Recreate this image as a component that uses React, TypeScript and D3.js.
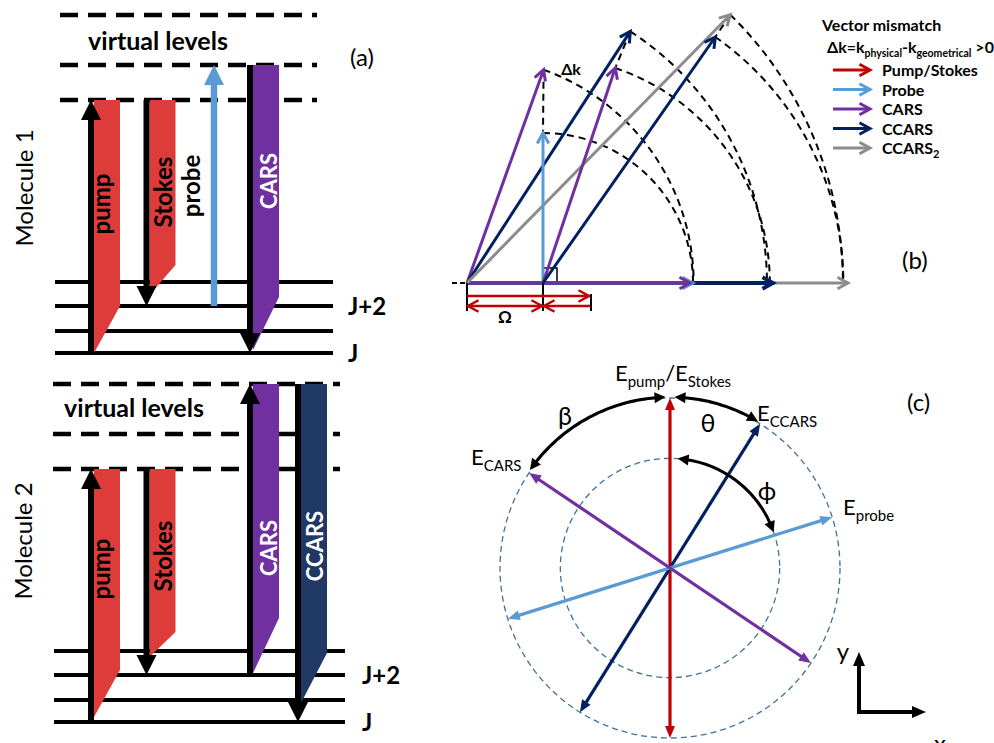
import React from 'react';
import * as d3 from 'd3';

// ---------- panel (a): energy levels, in units above J ----------
const groundLevels = [0, 22, 47, 71];
const groundLabels = [
  { level: 0, text: 'J' },
  { level: 47, text: 'J+2' },
];
const virtualLevels = [253, 288, 338];

// tail = [left, right] end of the coloured ribbon (same energy units)
const molecule1 = [
  { id: 'pump', from: 0, to: 253, tail: [0, 47] },
  { id: 'Stokes', from: 253, to: 47, tail: [58, 88] },
  { id: 'probe', from: 47, to: 288, tail: null },
  { id: 'CARS', from: 288, to: 0, tail: [3, 56] },
];
const molecule2 = [
  { id: 'pump', from: 0, to: 253, tail: [5, 52] },
  { id: 'Stokes', from: 253, to: 47, tail: [65, 90] },
  { id: 'CARS', from: 47, to: 338, tail: [49, 104] },
  { id: 'CCARS', from: 338, to: 0, tail: [19, 69] },
];

// ---------- panel (b): wave vectors ----------
const omega = 76;
const kPump = 124;
const kStokes = 48;
const kOrigins = [0, omega];
const kVectors = [
  { beam: 'CARS', origin: 0, kx: 76.6, ky: 213.3 },
  { beam: 'CCARS', origin: 0, kx: 163.3, ky: 251.6 },
  { beam: 'CCARS2', origin: 0, kx: 263.3, ky: 268.3 },
  { beam: 'Probe', origin: 1, kx: 0, ky: 150 },
  { beam: 'CARS', origin: 1, kx: 72.3, ky: 215 },
  { beam: 'CCARS', origin: 1, kx: 172.3, ky: 246 },
];
const kAxial = [
  { beam: 'CCARS2', k: 381 },
  { beam: 'CCARS', k: 306 },
  { beam: 'Probe', k: 226 },
  { beam: 'CARS', k: 223 },
];
const mismatchPairs = [[0, 3], [1, 4], [2, 5]];
const legendItems = [
  { beam: 'Pump/Stokes', text: 'Pump/Stokes', sub: '' },
  { beam: 'Probe', text: 'Probe', sub: '' },
  { beam: 'CARS', text: 'CARS', sub: '' },
  { beam: 'CCARS', text: 'CCARS', sub: '' },
  { beam: 'CCARS2', text: ' CCARS', sub: '2' },
];

// ---------- panel (c): polarisation angles (deg from y, clockwise) ----------
const fields = [
  { beam: 'Pump/Stokes', angle: 0 },
  { beam: 'CCARS', angle: 32 },
  { beam: 'Probe', angle: 72.6 },
  { beam: 'CARS', angle: -56 },
];
const angleMarks = [
  { sym: 'β', from: -1.5, to: -55, ring: 1 },
  { sym: 'θ', from: 1.5, to: 31, ring: 1 },
  { sym: 'ϕ', from: 4, to: 71, ring: 0.645 },
];

const colors = {
  'Pump/Stokes': '#C00000',
  Probe: '#5B9BD5',
  CARS: '#7030A0',
  CCARS: '#002060',
  CCARS2: '#8C8C8C',
};
const ribbon = { pump: '#DE3B3B', Stokes: '#DE3B3B', CARS: '#7030A0', CCARS: '#1F3864' };
const FONT = "Lato, 'Open Sans', sans-serif";

function head(x1, y1, x2, y2, len, hw) {
  const a = Math.atan2(y2 - y1, x2 - x1);
  const bx = x2 - len * Math.cos(a);
  const by = y2 - len * Math.sin(a);
  return `${x2},${y2} ${bx - hw * Math.sin(a)},${by + hw * Math.cos(a)} ${bx + hw * Math.sin(a)},${by - hw * Math.cos(a)}`;
}

function chevron(x1, y1, x2, y2, len = 12, spread = 0.5) {
  const a = Math.atan2(y2 - y1, x2 - x1);
  const p1 = [x2 - len * Math.cos(a - spread), y2 - len * Math.sin(a - spread)];
  const p2 = [x2 - len * Math.cos(a + spread), y2 - len * Math.sin(a + spread)];
  return `M${p1[0]},${p1[1]}L${x2},${y2}L${p2[0]},${p2[1]}`;
}

function KArrow({ x1, y1, x2, y2, color, width = 3 }) {
  return (
    <g stroke={color} strokeWidth={width} fill="none">
      <line x1={x1} y1={y1} x2={x2} y2={y2} />
      <path d={chevron(x1, y1, x2, y2)} strokeLinejoin="miter" />
    </g>
  );
}

const molLayouts = [
  {
    y0: 353, y1: 15, levelX: [55, 333], dashX: [60, 317], jX: 348,
    title: 'Molecule 1', titlePos: [33, 188], vl: [158, 50],
    cols: { pump: 91, Stokes: 146.5, probe: 214, CARS: 250 },
    labelY: { pump: 204, Stokes: 192, probe: 186, CARS: 181 },
  },
  {
    y0: 722, y1: 384, levelX: [54, 345], dashX: [53, 340], jX: 362,
    title: 'Molecule 2', titlePos: [32, 541], vl: [134, 417],
    cols: { pump: 91, Stokes: 146.5, CARS: 250, CCARS: 298 },
    labelY: { pump: 569, Stokes: 556, CARS: 548, CCARS: 546 },
  },
];
const labelBase = { pump: 19, Stokes: 25.5, CARS: 27, CCARS: 24.5, probe: -14 };

function Molecule({ transitions, lay }) {
  const y = d3.scaleLinear().domain([0, 338]).range([lay.y0, lay.y1]);
  return (
    <g>
      {virtualLevels.map(v => (
        <line key={'v' + v} x1={lay.dashX[0]} x2={lay.dashX[1]} y1={y(v)} y2={y(v)}
          stroke="#000" strokeWidth={4.5} strokeDasharray="18 10" />
      ))}
      {groundLevels.map(g => (
        <line key={'g' + g} x1={lay.levelX[0]} x2={lay.levelX[1]} y1={y(g)} y2={y(g)}
          stroke="#000" strokeWidth={4} />
      ))}
      {groundLabels.map(g => (
        <text key={g.text} x={lay.jX} y={y(g.level) + 9} fontSize={24} fontWeight="bold">{g.text}</text>
      ))}
      <text x={lay.vl[0]} y={lay.vl[1]} fontSize={25} fontWeight="bold" textAnchor="middle">virtual levels</text>
      <text transform={`translate(${lay.titlePos[0]},${lay.titlePos[1]}) rotate(-90)`} fontSize={24} textAnchor="middle">{lay.title}</text>
      {transitions.map(t => {
        const x = lay.cols[t.id];
        if (!t.tail) return null;
        const top = y(Math.max(t.from, t.to));
        const pts = `${x + 3},${top} ${x + 29},${top} ${x + 29},${y(t.tail[1])} ${x + 3},${y(t.tail[0])}`;
        return <polygon key={'r' + t.id} points={pts} fill={ribbon[t.id]} />;
      })}
      {transitions.map(t => {
        const x = lay.cols[t.id];
        const y1 = y(t.from);
        const y2 = y(t.to);
        const dir = Math.sign(y2 - y1);
        const col = t.id === 'probe' ? colors.Probe : '#000';
        return (
          <g key={'a' + t.id}>
            <line x1={x} x2={x} y1={y1} y2={y2 - dir * 18} stroke={col} strokeWidth={t.id === 'probe' ? 6.5 : 6} />
            <polygon points={head(x, y1, x, y2, 20, 10)} fill={col} />
          </g>
        );
      })}
      {transitions.map(t => {
        const bx = lay.cols[t.id] + labelBase[t.id];
        const white = t.id === 'CARS' || t.id === 'CCARS';
        return (
          <text key={'t' + t.id} transform={`translate(${bx},${lay.labelY[t.id]}) rotate(-90)`}
            fontSize={t.id === 'CARS' || t.id === 'CCARS' ? 22 : 24} fontWeight="bold"
            textAnchor="middle" fill={white ? '#fff' : '#000'}>{t.id}</text>
        );
      })}
    </g>
  );
}

function PanelB() {
  const kx = d3.scaleLinear().domain([0, 400]).range([467, 867]);
  const ky = d3.scaleLinear().domain([0, 300]).range([283, -17]);
  const px = (k: number) => kx(k) - kx(0);
  const tip = v => [kx(kOrigins[v.origin] + v.kx), ky(v.ky)];
  const y0 = ky(0);
  const arcs = kVectors.map(v => {
    const p = d3.path();
    const r = px(Math.hypot(v.kx, v.ky));
    const a = -Math.atan2(v.ky, v.kx);
    p.arc(kx(kOrigins[v.origin]), y0, r, a, 0);
    return p.toString();
  });
  const ly = d3.scaleLinear().domain([0, 1]).range([70, 89.5]);
  return (
    <g>
      {arcs.map((d, i) => (
        <path key={'arc' + i} d={d} fill="none" stroke="#000" strokeWidth={2} strokeDasharray="7 5" />
      ))}
      {mismatchPairs.map(([a, b], i) => {
        const p = tip(kVectors[a]);
        const q = tip(kVectors[b]);
        return <line key={'mm' + i} x1={p[0]} y1={p[1]} x2={q[0]} y2={q[1]} stroke="#000" strokeWidth={2} strokeDasharray="7 5" />;
      })}
      <line x1={kx(-15)} x2={kx(-1)} y1={y0} y2={y0} stroke="#000" strokeWidth={2} strokeDasharray="5 3" />
      <path d={`M${kx(omega)},${y0 - 15}H${kx(omega) + 14}V${y0}`} fill="none" stroke="#000" strokeWidth={1.5} />
      {kAxial.map((a, i) => (
        <KArrow key={'ax' + i} x1={kx(0)} y1={y0} x2={kx(a.k)} y2={y0} color={colors[a.beam]}
          width={a.beam === 'CCARS' ? 3.8 : 3} />
      ))}
      {kVectors.map((v, i) => {
        const t = tip(v);
        return <KArrow key={'kv' + i} x1={kx(kOrigins[v.origin])} y1={y0} x2={t[0]} y2={t[1]} color={colors[v.beam]} />;
      })}
      {/* pump / Stokes wave vectors */}
      {[0, omega].map(k => (
        <line key={'tk' + k} x1={kx(k)} x2={kx(k)} y1={y0} y2={y0 + 28} stroke="#000" strokeWidth={2} />
      ))}
      <line x1={kx(kPump)} x2={kx(kPump)} y1={y0 + 11} y2={y0 + 28} stroke="#000" strokeWidth={2} />
      <KArrow x1={kx(0)} y1={y0 + 13} x2={kx(kPump) - 2} y2={y0 + 13} color={colors['Pump/Stokes']} width={2.5} />
      <KArrow x1={kx(omega / 2)} y1={y0 + 23} x2={kx(omega) - 1} y2={y0 + 23} color={colors['Pump/Stokes']} width={2.5} />
      <KArrow x1={kx(omega / 2)} y1={y0 + 23} x2={kx(0) + 1} y2={y0 + 23} color={colors['Pump/Stokes']} width={2.5} />
      <KArrow x1={kx(kPump) - 1} y1={y0 + 23} x2={kx(kPump - kStokes) + 1} y2={y0 + 23} color={colors['Pump/Stokes']} width={2.5} />
      <text x={kx(omega / 2)} y={y0 + 40} fontSize={17} fontWeight="bold" textAnchor="middle">Ω</text>
      <text x={571} y={75} fontSize={16} fontWeight="bold" textAnchor="middle">Δk</text>
      <text x={902} y={269} fontSize={24}>(b)</text>
      {/* legend */}
      <text x={822} y={31} fontSize={16} fontWeight="bold">Vector mismatch</text>
      <text x={827} y={53} fontSize={16} fontWeight="bold">
        Δk=k<tspan fontSize={10.5} dy={4}>physical</tspan>
        <tspan dy={-4}>-k</tspan>
        <tspan fontSize={10.5} dy={4}>geometrical</tspan>
        <tspan dy={-4}> &gt;0</tspan>
      </text>
      {legendItems.map((d, i) => (
        <g key={d.beam}>
          <KArrow x1={833} y1={ly(i)} x2={870} y2={ly(i)} color={colors[d.beam]} width={3} />
          <text x={882} y={ly(i) + 6} fontSize={16} fontWeight="bold">
            {d.text}
            {d.sub && <tspan fontSize={11} dy={4}>{d.sub}</tspan>}
          </text>
        </g>
      ))}
    </g>
  );
}

function PanelC() {
  const cx = 670, cy = 568;
  const r = d3.scaleLinear().domain([0, 1]).range([0, 170]);
  const pol = (deg, rr) => {
    const a = (deg * Math.PI) / 180;
    return [cx + rr * Math.sin(a), cy - rr * Math.cos(a)];
  };
  const Sub = ({ x, y, main, sub, anchor = 'start' }) => (
    <text x={x} y={y} fontSize={22} textAnchor={anchor}>
      {main}<tspan fontSize={15} dy={6}>{sub}</tspan>
    </text>
  );
  return (
    <g>
      {[1, 0.645].map(k => (
        <circle key={k} cx={cx} cy={cy} r={r(k)} fill="none" stroke="#41719C" strokeWidth={1.3} strokeDasharray="6 4" />
      ))}
      {fields.map(f => {
        const p = pol(f.angle, r(1));
        const q = pol(f.angle + 180, r(1));
        const c = colors[f.beam];
        const p2 = pol(f.angle, r(1) - 9);
        const q2 = pol(f.angle + 180, r(1) - 9);
        return (
          <g key={f.beam}>
            <line x1={q2[0]} y1={q2[1]} x2={p2[0]} y2={p2[1]} stroke={c} strokeWidth={3.2} />
            <polygon points={head(q[0], q[1], p[0], p[1], 12, 5)} fill={c} />
            <polygon points={head(p[0], p[1], q[0], q[1], 12, 5)} fill={c} />
          </g>
        );
      })}
      {angleMarks.map(m => {
        const rr = r(m.ring) + (m.ring === 1 ? 1 : 0);
        const a0 = ((m.from - 90) * Math.PI) / 180;
        const a1 = ((m.to - 90) * Math.PI) / 180;
        const cw = a1 > a0;
        const trim = 8 / rr;
        const p = d3.path();
        p.arc(cx, cy, rr, a0 + (cw ? trim : -trim), a1 - (cw ? trim : -trim), !cw);
        const e0 = pol(m.from, rr);
        const e1 = pol(m.to, rr);
        const b0 = pol(m.from + (cw ? 1 : -1) * (11 / rr) * (180 / Math.PI), rr);
        const b1 = pol(m.to - (cw ? 1 : -1) * (11 / rr) * (180 / Math.PI), rr);
        return (
          <g key={m.sym}>
            <path d={p.toString()} fill="none" stroke="#000" strokeWidth={3} />
            <polygon points={head(b0[0], b0[1], e0[0], e0[1], 11, 5.5)} fill="#000" />
            <polygon points={head(b1[0], b1[1], e1[0], e1[1], 11, 5.5)} fill="#000" />
          </g>
        );
      })}
      <text x={565} y={415} fontSize={25} textAnchor="middle" dominantBaseline="central">β</text>
      <text x={708} y={422} fontSize={25} textAnchor="middle" dominantBaseline="central">θ</text>
      <text x={767} y={490} fontSize={25} textAnchor="middle" dominantBaseline="central">ϕ</text>
      <text x={673} y={381} fontSize={22} textAnchor="middle">
        E<tspan fontSize={15} dy={6}>pump</tspan><tspan dy={-6}>/E</tspan><tspan fontSize={15} dy={6}>Stokes</tspan>
      </text>
      <Sub x={757} y={421} main="E" sub="CCARS" />
      <Sub x={471} y={465} main="E" sub="CARS" />
      <Sub x={843} y={515} main="E" sub="probe" />
      <text x={907} y={411} fontSize={24}>(c)</text>
      {/* lab axes */}
      <line x1={859} y1={714} x2={859} y2={664} stroke="#000" strokeWidth={4} />
      <polygon points={head(859, 700, 859, 652, 14, 6)} fill="#000" />
      <line x1={857} y1={712} x2={914} y2={712} stroke="#000" strokeWidth={4} />
      <polygon points={head(870, 712, 926, 712, 14, 6)} fill="#000" />
      <text x={843} y={660} fontSize={24} textAnchor="middle">y</text>
      <text x={940} y={752} fontSize={24} textAnchor="middle">x</text>
    </g>
  );
}

export default function App() {
  return (
    <svg width={994} height={743} style={{ position: 'absolute', left: 0, top: 0, background: '#fff' }}
      fontFamily={FONT}>
      <rect width={994} height={743} fill="#fff" />
      <Molecule transitions={molecule1} lay={molLayouts[0]} />
      <Molecule transitions={molecule2} lay={molLayouts[1]} />
      <text x={350} y={66} fontSize={24}>(a)</text>
      <PanelB />
      <PanelC />
    </svg>
  );
}
